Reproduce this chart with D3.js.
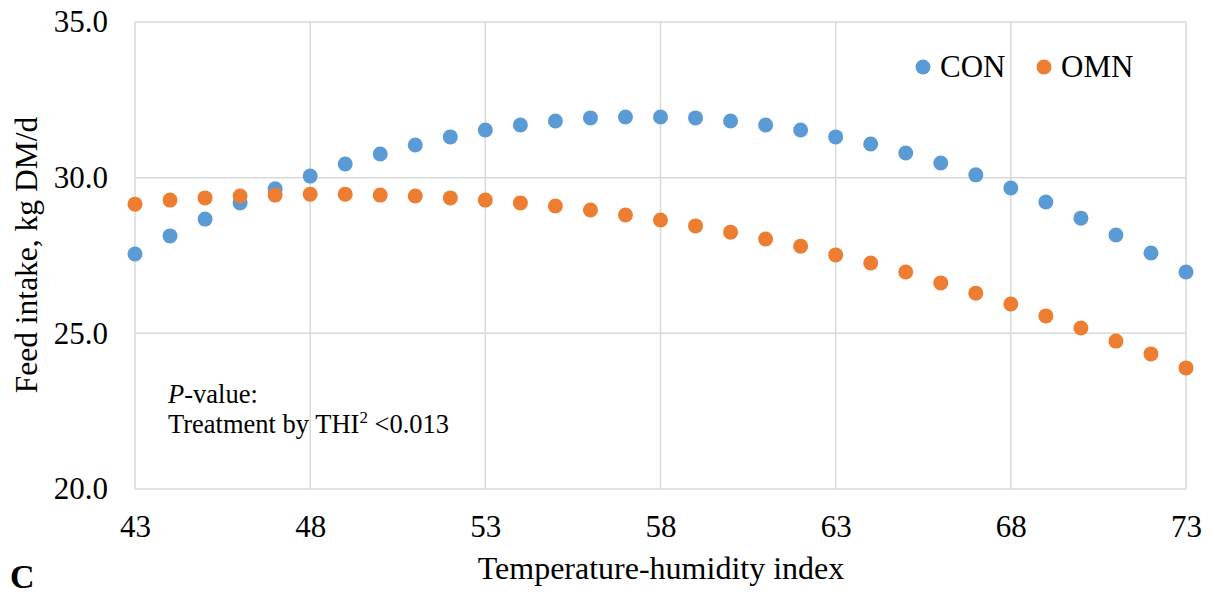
<!DOCTYPE html>
<html>
<head>
<meta charset="utf-8">
<script src="https://cdn.jsdelivr.net/npm/d3@7"></script>
<style>
  html, body { margin: 0; padding: 0; background: #fff; }
  svg { display: block; font-family: "Liberation Serif", "Times New Roman", serif; }
</style>
</head>
<body>
<svg id="chart" width="1214" height="597"></svg>
<script>
// Temperature-humidity index values
const thi = [43,44,45,46,47,48,49,50,51,52,53,54,55,56,57,58,59,60,61,62,63,64,65,66,67,68,69,70,71,72,73];

// Predicted feed intake (kg DM/d) per treatment
const conIntake = [27.55,28.13,28.67,29.19,29.64,30.05,30.44,30.76,31.05,31.31,31.53,31.69,31.82,31.92,31.95,31.95,31.92,31.82,31.69,31.53,31.31,31.08,30.79,30.47,30.09,29.67,29.22,28.70,28.16,27.58,26.97];
const omnIntake = [29.15,29.28,29.35,29.41,29.44,29.47,29.47,29.44,29.41,29.35,29.28,29.19,29.09,28.96,28.80,28.64,28.45,28.25,28.03,27.80,27.52,27.26,26.97,26.62,26.29,25.94,25.56,25.17,24.75,24.34,23.89];

const xTicks = [43,48,53,58,63,68,73];
const yTicks = [20,25,30,35];

const seriesNames = ["CON", "OMN"];
const seriesColors = ["#5B9BD5", "#ED7D31"];

const svg = d3.select("#chart");
const plotLeft = 135, plotRight = 1186, plotTop = 22, plotBottom = 489;
const fontFamily = "Liberation Serif, Times New Roman, serif";

const x = d3.scaleLinear().domain([43, 73]).range([plotLeft, plotRight]);
const y = d3.scaleLinear().domain([20, 35]).range([plotBottom, plotTop]);

// Gridlines
const grid = svg.append("g");
grid.selectAll("line.h").data(yTicks).join("line")
  .attr("class", "h")
  .attr("x1", plotLeft).attr("x2", plotRight)
  .attr("y1", d => y(d)).attr("y2", d => y(d))
  .attr("stroke", "#D9D9D9").attr("stroke-width", 1.5);
grid.selectAll("line.v").data(xTicks).join("line")
  .attr("class", "v")
  .attr("y1", plotTop).attr("y2", plotBottom)
  .attr("x1", d => x(d)).attr("x2", d => x(d))
  .attr("stroke", "#D9D9D9").attr("stroke-width", 1.5);

// Axes (labels only, lines drawn as gridlines)
const yAxis = svg.append("g").attr("transform", `translate(${plotLeft},0)`)
  .call(d3.axisLeft(y).tickValues(yTicks).tickFormat(d3.format(".1f")).tickSize(0).tickPadding(27));
yAxis.select(".domain").remove();
yAxis.selectAll("text").attr("font-size", 31).attr("fill", "#000").attr("font-family", fontFamily);

const xAxis = svg.append("g").attr("transform", `translate(0,${plotBottom})`)
  .call(d3.axisBottom(x).tickValues(xTicks).tickFormat(d3.format("d")).tickSize(0).tickPadding(26));
xAxis.select(".domain").remove();
xAxis.selectAll("text").attr("font-size", 31).attr("fill", "#000").attr("font-family", fontFamily);

// Points
const series = [conIntake, omnIntake];
series.forEach((vals, i) => {
  svg.append("g").selectAll("circle")
    .data(thi.map((t, j) => [t, vals[j]]))
    .join("circle")
    .attr("cx", d => x(d[0]))
    .attr("cy", d => y(d[1]))
    .attr("r", 7.5)
    .attr("fill", seriesColors[i]);
});

// Legend
const legend = svg.append("g");
const legendX = [923, 1044];
seriesNames.forEach((name, i) => {
  legend.append("circle").attr("cx", legendX[i]).attr("cy", 67).attr("r", 7.5).attr("fill", seriesColors[i]);
  legend.append("text").attr("x", legendX[i] + 17).attr("y", 77)
    .attr("font-size", 31).text(name);
});

// Axis titles
svg.append("text").attr("x", 661).attr("y", 579).attr("text-anchor", "middle")
  .attr("font-size", 32).text("Temperature-humidity index");
svg.append("text").attr("transform", "translate(37,255) rotate(-90)")
  .attr("text-anchor", "middle").attr("font-size", 31.5).text("Feed intake, kg DM/d");

// Panel letter
svg.append("text").attr("x", 10).attr("y", 588).attr("font-size", 34)
  .attr("font-weight", "bold").text("C");

// Statistics note
const note = svg.append("g").attr("font-size", 26.5);
const t1 = note.append("text").attr("x", 168).attr("y", 403);
t1.append("tspan").attr("font-style", "italic").text("P");
t1.append("tspan").text("-value:");
const t2 = note.append("text").attr("x", 168).attr("y", 433);
t2.append("tspan").text("Treatment by THI");
t2.append("tspan").attr("font-size", 17).attr("dy", -10).text("2");
t2.append("tspan").attr("dy", 10).text(" <0.013");
</script>
</body>
</html>
